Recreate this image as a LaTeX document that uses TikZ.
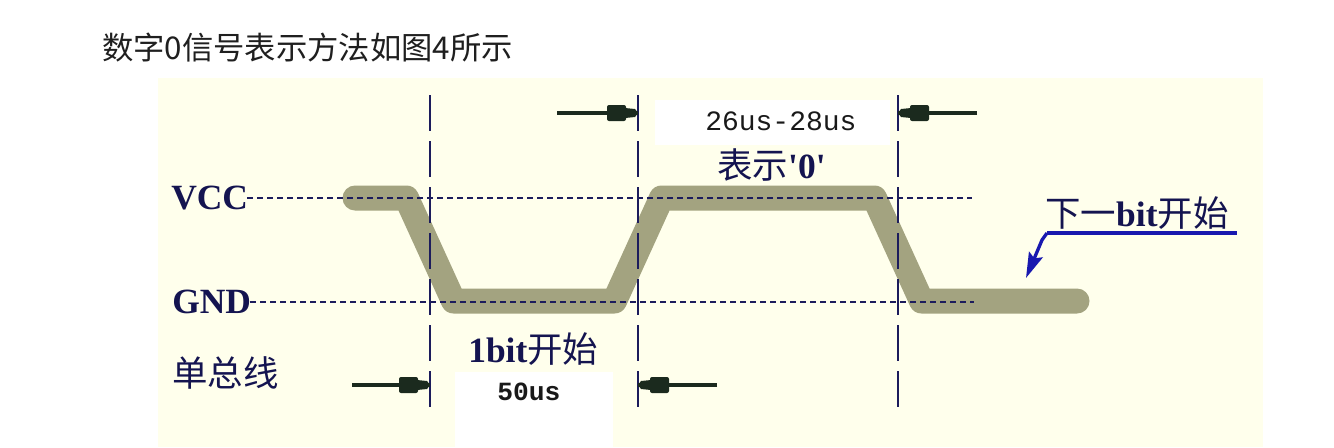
\documentclass[tikz,border=0pt]{standalone}
\usepackage{fontspec}
\setmainfont{Liberation Serif}
\newfontfamily\cjk{Noto Sans CJK SC}
\newfontfamily\monof{Liberation Mono}
\usetikzlibrary{arrows.meta}
\definecolor{panelbg}{RGB}{255,255,236}
\definecolor{bandc}{RGB}{163,163,128}
\definecolor{navy}{RGB}{28,28,92}
\definecolor{labelc}{RGB}{20,20,80}
\definecolor{dimc}{RGB}{27,42,30}
\definecolor{leadc}{RGB}{25,25,175}
\tikzset{
  lbl/.style={inner sep=0pt, anchor=base west, text=labelc, font=\fontsize{26.6}{30}\selectfont},
  hdash/.style={draw=navy, line width=1.1pt, dash pattern=on 4.5pt off 3pt},
  vdash/.style={draw=navy, line width=1.5pt, dash pattern=on 27pt off 7.5pt},
  sig/.style={draw=bandc, line width=18.75pt, line join=round, line cap=round},
  dimline/.style={draw=dimc, line width=3pt},
  dimhead/.pic={
    \fill[dimc, rounded corners=1.5pt] (-31,-8) rectangle (-12,8);
    \fill[dimc] (-13,-5) -- (-3,-4) -- (0,0) -- (-3,4) -- (-13,5) -- cycle;
  },
  leader/.style={draw=leadc, line width=2.5pt, line join=round, -{Stealth[length=19pt,width=11pt,inset=3pt]}}
}
\begin{document}
\begin{tikzpicture}[x=0.75pt,y=-0.75pt]
\useasboundingbox (0,0) rectangle (1334,447);
\fill[white] (0,0) rectangle (1334,447);
% panel and white label boxes
\fill[panelbg] (158,78) rectangle (1263,447);
\fill[white] (655,100) rectangle (890,145);
\fill[white] (455,372) rectangle (613,447);
% title
\node[anchor=base west, inner sep=0pt, font=\fontsize{23.5}{26}\selectfont, text=black!88] (title) at (102,59) {\cjk 数字0信号表示方法如图4所示};
% signal
\coordinate (s0) at (355,198);
\coordinate (s1) at (406.5,198);
\coordinate (s2) at (453.5,301);
\coordinate (s3) at (614.5,301);
\coordinate (s4) at (661.5,198);
\coordinate (s5) at (874.5,198);
\coordinate (s6) at (921.5,301);
\coordinate (s7) at (1077,301);
\draw[sig] (s0) -- (s1) -- (s2) -- (s3) -- (s4) -- (s5) -- (s6) -- (s7);
% level lines
\coordinate (vccs) at (247,198);
\coordinate (vcce) at (972,198);
\coordinate (gnds) at (250,302);
\coordinate (gnde) at (974,302);
\draw[hdash] (vccs) -- (vcce);
\draw[hdash] (gnds) -- (gnde);
% time markers
\coordinate (m1t) at (430,95);  \coordinate (m1b) at (430,407);
\coordinate (m2t) at (638,95);  \coordinate (m2b) at (638,407);
\coordinate (m3t) at (898,95);  \coordinate (m3b) at (898,407);
\draw[vdash] (m1t) -- (m1b);
\draw[vdash] (m2t) -- (m2b);
\draw[vdash] (m3t) -- (m3b);
% dimension arrows
\coordinate (a1s) at (557,113); \coordinate (a1e) at (638,113);
\coordinate (a2s) at (977,113); \coordinate (a2e) at (898,113);
\coordinate (a3s) at (352,385); \coordinate (a3e) at (430,385);
\coordinate (a4s) at (717,385); \coordinate (a4e) at (638,385);
\draw[dimline] (a1s) -- (a1e);
\draw[dimline] (a2s) -- (a2e);
\draw[dimline] (a3s) -- (a3e);
\draw[dimline] (a4s) -- (a4e);
\pic at (a1e) {dimhead};
\pic[rotate=180] at (a2e) {dimhead};
\pic at (a3e) {dimhead};
\pic[rotate=180] at (a4e) {dimhead};
% labels
\node[lbl] (vcc) at (171,209) {\bfseries VCC};
\node[lbl] (gnd) at (172,313) {\bfseries GND};
\node[lbl] (bus) at (172,386) {\cjk 单总线};
\node[lbl] (onebit) at (468,362) {\bfseries 1bit{\cjk\mdseries 开始}};
\node[lbl, text=black!90, font=\monof\bfseries\fontsize{19.7}{22}\selectfont] (t50) at (497,400) {50us};
\node[lbl, text=black!90, font=\monof\fontsize{21}{24}\selectfont] (t26) at (705,130) {26us-28us};
\node[lbl] (zero) at (717,178) {{\cjk 表示}\bfseries\textquotesingle0\textquotesingle};
\node[lbl] (next) at (1045,226) {{\cjk 下一}\bfseries bit{\cjk\mdseries 开始}};
% leader to next bit
\coordinate (ul0) at (1047,233);
\coordinate (ul1) at (1237,233);
\coordinate (lk) at (1042,240);
\coordinate (ltip) at (1026,278);
\draw[leadc, line width=3.5pt] (ul0) -- (ul1);
\draw[leader] (ul0) -- (lk) -- (ltip);
\end{tikzpicture}
\end{document}
